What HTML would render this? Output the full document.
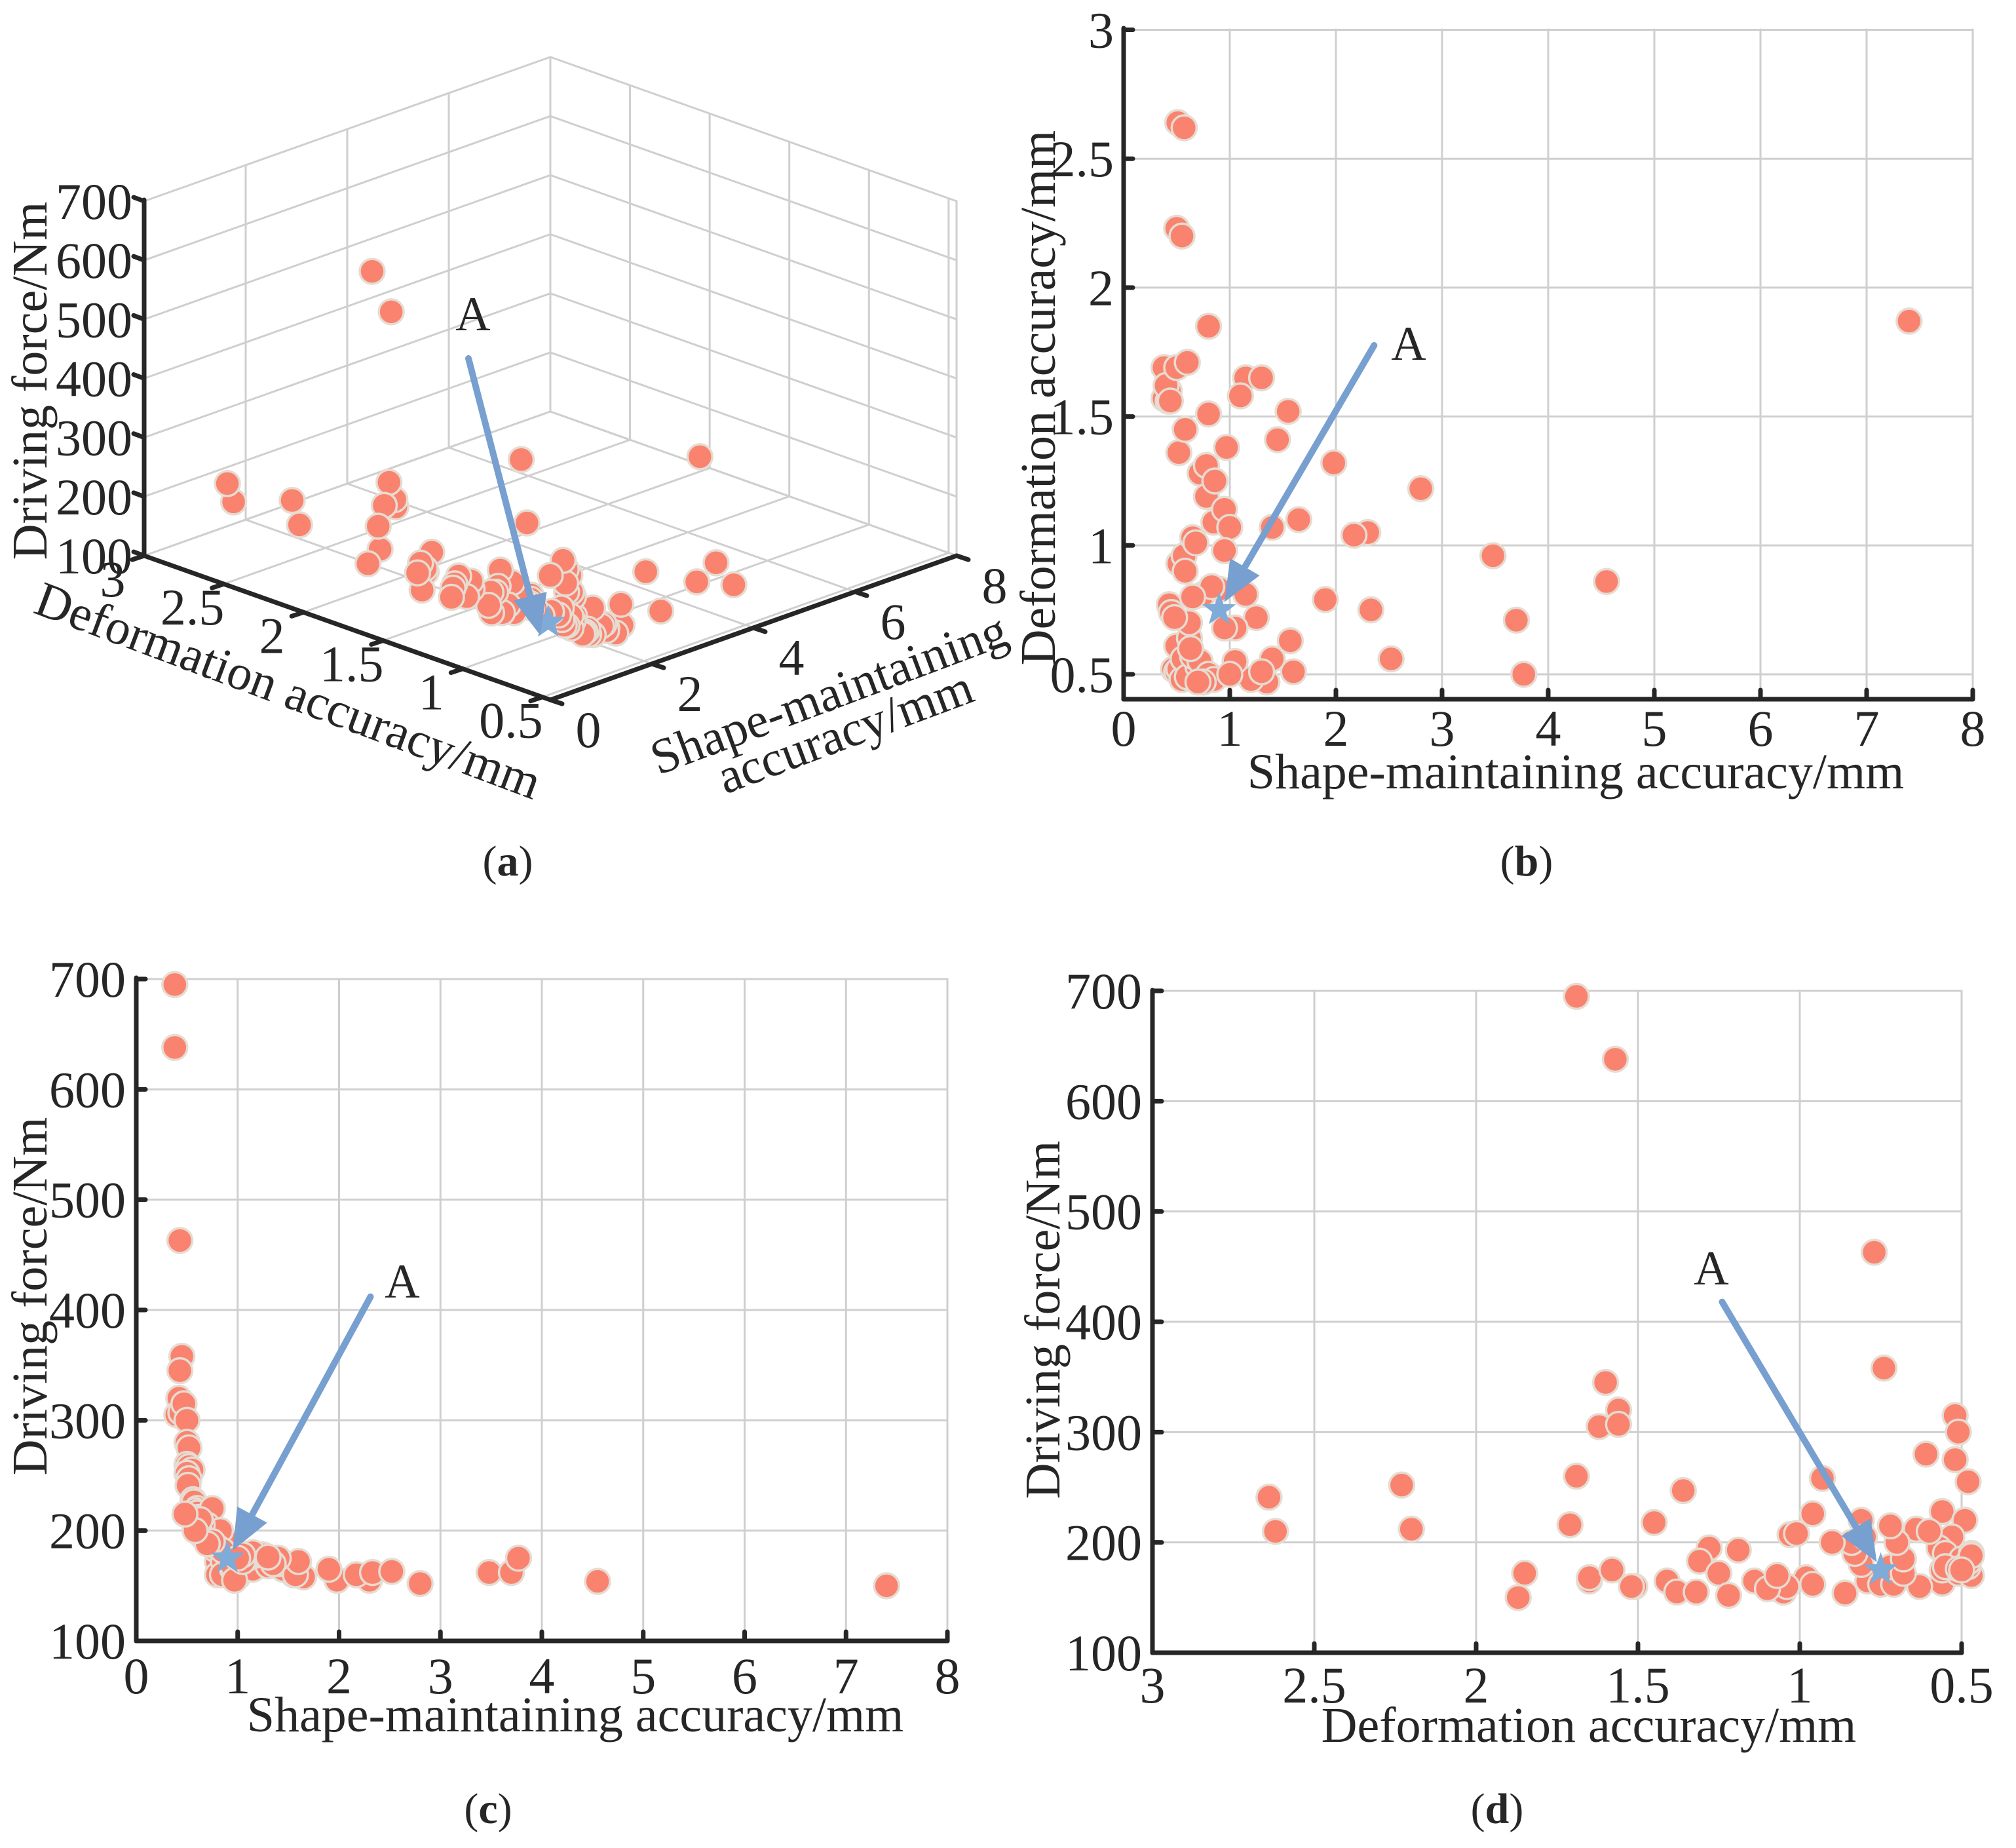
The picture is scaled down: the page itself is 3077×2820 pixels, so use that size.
<!DOCTYPE html>
<html><head><meta charset="utf-8"><style>
html,body{margin:0;padding:0;background:#fff;}
svg text{font-family:"Liberation Serif",serif;fill:#262626;}
</style></head><body>
<svg id="fig" xmlns="http://www.w3.org/2000/svg" width="3077" height="2815" viewBox="0 0 3077 2815">
<g id="pa"></g>
<g id="pb"></g>
<g id="pc"></g>
<g id="pd"></g>
</svg>
<script>
// data: shape-maintaining accuracy (mm), deformation accuracy (mm), driving force (Nm)
const shapeAcc=[0.38,0.38,0.43,0.45,0.43,0.42,0.40,0.44,0.47,0.50,0.50,0.52,0.50,0.52,0.55,0.50,0.52,0.51,0.56,0.57,0.60,0.58,0.60,0.55,0.57,0.62,0.65,0.68,0.75,0.70,0.72,0.78,0.80,7.40,0.80,0.78,0.86,0.85,0.95,1.00,0.95,1.15,1.30,1.10,1.55,1.45,0.97,1.98,2.80,2.30,2.17,1.65,1.40,3.48,4.55,1.90,2.33,3.70,2.52,3.77,1.57,1.60,1.40,1.35,1.20,1.25,1.15,1.05,0.95,0.90,0.83,0.65,0.62,0.65,0.72,0.80,0.85,1.05,1.30,0.75,0.70,0.63,1.00,0.58,0.48];
const defAcc=[1.69,1.57,0.77,0.74,1.60,1.56,1.62,1.56,0.52,0.51,0.61,0.52,1.69,0.93,0.48,2.23,1.36,2.64,0.56,0.96,0.49,1.45,1.71,2.20,2.62,0.64,1.03,1.01,0.81,0.53,1.28,1.19,1.85,1.87,1.51,1.31,1.25,1.09,1.14,1.07,0.98,1.65,1.65,1.58,1.52,1.41,1.38,1.32,1.22,1.05,1.04,1.10,1.07,0.96,0.86,0.79,0.75,0.71,0.56,0.50,0.63,0.51,0.56,0.47,0.48,0.72,0.81,0.68,0.68,0.83,0.84,0.80,0.70,0.57,0.55,0.50,0.48,0.55,0.51,0.47,0.47,0.60,0.50,0.90,0.72];
const force=[695,638,463,358,345,320,305,307,315,300,280,275,260,258,255,252,247,241,228,226,220,218,216,212,210,212,207,208,220,205,195,193,172,150,160,183,172,160,165,158,168,165,168,175,160,165,155,155,152,155,160,158,170,162,154,165,162,162,163,175,160,172,175,170,178,178,180,172,185,190,200,205,200,195,190,185,182,178,176,190,188,210,175,200,215];
const pointA=[0.9,0.75,175]; // shape, deformation, force
const ticksShape=[0,1,2,3,4,5,6,7,8];
const ticksDef=[0.5,1,1.5,2,2.5,3];
const ticksForce=[100,200,300,400,500,600,700];
const ticks3dShape=[0,2,4,6,8];
const ticks3dDef=[3,2.5,2,1.5,1,0.5];

const NS="http://www.w3.org/2000/svg";
const AX="#262626",GRID="#cfcfcf",DOT="#F9836F",EDGE="#E6DCD2",BLUE="#779FCF";
function el(p,tag,attrs){const e=document.createElementNS(NS,tag);for(const k in attrs)e.setAttribute(k,attrs[k]);p.appendChild(e);return e;}
function line(p,x1,y1,x2,y2,c,w,name){const e=el(p,'line',{x1,y1,x2,y2,stroke:c,'stroke-width':w,'stroke-linecap':'round'});

return e;}
function text(p,x,y,s,size,anchor,name,extra){const e=el(p,'text',Object.assign({x,y,'font-size':size,'text-anchor':anchor||'middle'},extra||{}));e.textContent=s;

return e;}
function dot(p,x,y){const e=el(p,'circle',{cx:x,cy:y,r:19,fill:DOT,stroke:EDGE,'stroke-width':3.5});

}
function star(p,x,y){let pts=[];for(let i=0;i<10;i++){const r=i%2?11:27,a=-Math.PI/2+i*Math.PI/5;pts.push((x+r*Math.cos(a)).toFixed(1)+','+(y+r*Math.sin(a)).toFixed(1));}
const e=el(p,'polygon',{points:pts.join(' '),fill:'#7FABD8'});

}
function arrow(p,x1,y1,x2,y2){const dx=x2-x1,dy=y2-y1,L=Math.hypot(dx,dy),ux=dx/L,uy=dy/L,hl=62,hw=26;
const bx=x2-ux*hl,by=y2-uy*hl;
const g=el(p,'g',{});


el(g,'line',{x1,y1,x2:bx,y2:by,stroke:BLUE,'stroke-width':10,'stroke-linecap':'round'});
el(g,'polygon',{points:`${x2},${y2} ${bx-uy*hw},${by+ux*hw} ${bx+uy*hw},${by-ux*hw}`,fill:BLUE});}
function panelLabel(p,x,y,l,name){const e=el(p,'text',{x,y,'font-size':66,'text-anchor':'middle'});


e.appendChild(document.createTextNode('('));const t=el(e,'tspan',{'font-weight':'bold'});t.textContent=l;e.appendChild(document.createTextNode(')'));}

function panel2d(g,o){
 const {X,Y,x0,x1,y0,y1,xt,yt,xlab,ylab,xs,ys,xTitle,yTitle}=o;
 xt.forEach(v=>{ if(Math.abs(X(v)-x0)>2) line(g,X(v),y1,X(v),y0,GRID,3,'grid-vertical');});
 yt.forEach(v=>{ if(Math.abs(Y(v)-y0)>2) line(g,x0,Y(v),x1,Y(v),GRID,3,'grid-horizontal');});
 line(g,x0,y1-2,x0,y0,AX,7,'y-axis');
 line(g,x0,y0,x1,y0,AX,7,'x-axis');
 xt.forEach(v=>{line(g,X(v),y0,X(v),y0-14,AX,7,'x-tick');text(g,X(v),o.xly,String(v),78,'middle','x-tick-label');});
 yt.forEach(v=>{line(g,x0,Y(v),x0+14,Y(v),AX,7,'y-tick');text(g,o.ylx,Y(v)+27,String(v),78,'end','y-tick-label');});
 xs.forEach((v,i)=>dot(g,X(v),Y(ys[i])));
 text(g,xTitle[0],xTitle[1],xlab,76,'middle','x-axis-title');
 text(g,yTitle[0],yTitle[1],ylab,76,'middle','y-axis-title',{transform:`rotate(-90 ${yTitle[0]} ${yTitle[1]})`,'dominant-baseline':'central'});
}

// panel b
(function(){const g=document.getElementById('pb');
 const X=v=>1715+v*162, Y=v=>1029-(v-0.5)*393.4;
 panel2d(g,{X,Y,x0:1715,x1:3011,y0:1067,y1:45,xt:ticksShape,yt:ticksDef,xs:shapeAcc,ys:defAcc,xly:1138,ylx:1700,
  xlab:'Shape-maintaining accuracy/mm',ylab:'Deformation accuracy/mm',xTitle:[2405,1203],yTitle:[1585,607]});
 star(g,X(pointA[0]),Y(pointA[1]));
 arrow(g,X(2.36),Y(1.776),X(pointA[0])+8,Y(pointA[1])-12);
 text(g,2150,549,'A',74,'middle','annotation-a');
 panelLabel(g,2330,1336,'b','panel-b-label');
})();
// panel c
(function(){const g=document.getElementById('pc');
 const X=v=>208+v*154.75, Y=v=>2504-(v-100)*1.6833;
 panel2d(g,{X,Y,x0:208,x1:1446,y0:2504,y1:1494,xt:ticksShape,yt:ticksForce,xs:shapeAcc,ys:force,xly:2584,ylx:192,
  xlab:'Shape-maintaining accuracy/mm',ylab:'Driving force/Nm',xTitle:[878,2642],yTitle:[46,1978]});
 star(g,X(pointA[0]),Y(pointA[2]));
 arrow(g,X(2.31),Y(412),X(pointA[0])+8,Y(pointA[2])-12);
 text(g,614,1980,'A',74,'middle','annotation-a');
 panelLabel(g,745,2782,'c','panel-c-label');
})();
// panel d
(function(){const g=document.getElementById('pd');
 const X=v=>1759+(3-v)*494, Y=v=>2522-(v-100)*1.6833;
 panel2d(g,{X,Y,x0:1759,x1:2994,y0:2522,y1:1513,xt:ticksDef.slice().reverse(),yt:ticksForce,xs:defAcc,ys:force,xly:2598,ylx:1743,
  xlab:'Deformation accuracy/mm',ylab:'Driving force/Nm',xTitle:[2425,2658],yTitle:[1592,2014]});
 star(g,X(pointA[1]),Y(pointA[2]));
 arrow(g,X(1.24),Y(418),X(pointA[1])-6,Y(pointA[2])-12);
 text(g,2612,1960,'A',74,'middle','annotation-a');
 panelLabel(g,2285,2782,'d','panel-d-label');
})();
// panel a (3D)
(function(){const g=document.getElementById('pa');
 const C=[840,1068], dMin=0.45, dMax=3, dv=[-620,-220], sv=[620,-220], zk=541/600;
 const P=(s,d,f)=>[C[0]+(d-dMin)/(dMax-dMin)*dv[0]+s/8*sv[0], C[1]+(d-dMin)/(dMax-dMin)*dv[1]+s/8*sv[1]-(f-100)*zk];
 ticks3dShape.forEach(s=>{if(s>0){const a=P(s,dMin,100),b=P(s,dMax,100);line(g,a[0],a[1],b[0],b[1],GRID,3,'floor-grid');}});
 ticks3dDef.forEach(d=>{const a=P(0,d,100),b=P(8,d,100);line(g,a[0],a[1],b[0],b[1],GRID,3,'floor-grid');});
 ticksForce.forEach(f=>{let a=P(0,dMax,f),b=P(8,dMax,f);line(g,a[0],a[1],b[0],b[1],GRID,3,'left-wall-grid');
   a=P(8,dMax,f);b=P(8,dMin,f);line(g,a[0],a[1],b[0],b[1],GRID,3,'right-wall-grid');});
 ticks3dShape.forEach(s=>{if(s>0){const a=P(s,dMax,100),b=P(s,dMax,700);line(g,a[0],a[1],b[0],b[1],GRID,3,'left-wall-grid');}});
 ticks3dDef.forEach(d=>{const a=P(8,d,100),b=P(8,d,700);line(g,a[0],a[1],b[0],b[1],GRID,3,'right-wall-grid');});
 {const a=P(8,dMin,100),b=P(8,dMin,700);line(g,a[0],a[1],b[0],b[1],GRID,3,'right-wall-grid');}
 let a=P(0,dMax,100),b=P(0,dMax,700);line(g,a[0],a[1],b[0],b[1]-2,AX,7,'z-axis');
 a=P(0,dMax,100);b=P(0,dMin,100);line(g,a[0],a[1],b[0],b[1],AX,7,'deformation-axis');
 a=P(0,dMin,100);b=P(8,dMin,100);line(g,a[0],a[1],b[0],b[1],AX,7,'shape-axis');
 ticksForce.forEach(f=>{const q=P(0,dMax,f);line(g,q[0],q[1],q[0]-16,q[1]-6,AX,7,'z-tick');text(g,q[0]-18,q[1]+27,String(f),78,'end','z-tick-label');});
 ticks3dDef.forEach(d=>{const q=P(0,d,100);line(g,q[0],q[1],q[0]-18,q[1]+6,AX,7,'deformation-tick');text(g,q[0]-48,q[1]+62,String(d),78,'middle','deformation-tick-label');});
 ticks3dShape.forEach(s=>{const q=P(s,dMin,100);line(g,q[0],q[1],q[0]+18,q[1]+6,AX,7,'shape-tick');text(g,q[0]+58,q[1]+72,String(s),78,'middle','shape-tick-label');});
 const idx=shapeAcc.map((_,i)=>i).sort((i,j)=>(shapeAcc[j]/8-(defAcc[j]-dMin)/2.55)-(shapeAcc[i]/8-(defAcc[i]-dMin)/2.55));
 idx.forEach(i=>{const q=P(shapeAcc[i],defAcc[i],force[i]);dot(g,q[0],q[1]);});
 const sa=P(pointA[0],pointA[1],pointA[2]);star(g,sa[0],sa[1]);
 arrow(g,715,547,sa[0]-12,sa[1]+20);
 text(g,722,504,'A',74,'middle','annotation-a');
 text(g,46,581,'Driving force/Nm',76,'middle','z-axis-title',{transform:'rotate(-90 46 581)','dominant-baseline':'central'});
 text(g,440,1054,'Deformation accuracy/mm',76,'middle','deformation-axis-title',{transform:'rotate(20.5 440 1054)','dominant-baseline':'central'});
 text(g,1265,1059,'Shape-maintaining',76,'middle','shape-axis-title',{transform:'rotate(-20.5 1265 1059)','dominant-baseline':'central'});
 text(g,1290,1117,'accuracy/mm',76,'middle','shape-axis-title-line2',{transform:'rotate(-20.5 1290 1117)','dominant-baseline':'central'});
 panelLabel(g,775,1336,'a','panel-a-label');
})();
</script>
</body></html>
